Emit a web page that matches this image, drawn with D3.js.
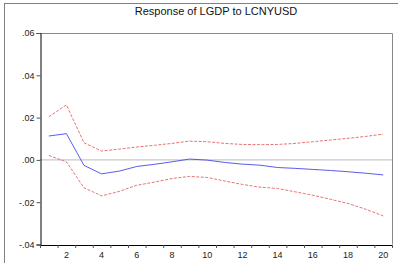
<!DOCTYPE html>
<html>
<head>
<meta charset="utf-8">
<script src="https://cdn.jsdelivr.net/npm/d3@7"></script>
<style>
  body { margin: 0; background: #fff; }
  svg { display: block; font-family: "Liberation Sans", Arial, sans-serif; }
</style>
</head>
<body>
<svg width="398" height="263"></svg>
<script>
  const periods = d3.range(1, 21);
  const response = [0.0113, 0.0124, -0.0026, -0.0066, -0.0053, -0.0031, -0.0021, -0.0009, 0.0004, -0.0001,
                    -0.0012, -0.0020, -0.0025, -0.0036, -0.0040, -0.0045, -0.0050, -0.0056, -0.0063, -0.0071];
  const upper = [0.0204, 0.0260, 0.0081, 0.0042, 0.0051, 0.0061, 0.0069, 0.0078, 0.0089, 0.0086,
                 0.0078, 0.0073, 0.0072, 0.0073, 0.0078, 0.0086, 0.0094, 0.0102, 0.0111, 0.0122];
  const lower = [0.0021, -0.0009, -0.0132, -0.0170, -0.0149, -0.0120, -0.0105, -0.0088, -0.0078, -0.0083,
                 -0.0100, -0.0116, -0.0129, -0.0135, -0.0151, -0.0167, -0.0186, -0.0206, -0.0233, -0.0265];
  const yTicks = [-0.04, -0.02, 0, 0.02, 0.04, 0.06];
  const xLabels = [2, 4, 6, 8, 10, 12, 14, 16, 18, 20];
  const title = "Response of LGDP to LCNYUSD";

  (function () {
  const svg = d3.select("svg");
  const m = {left: 40, right: 392, top: 33, bottom: 244.5};

  // outer frame
  svg.append("rect")
    .attr("x", 4.5).attr("y", 3.5).attr("width", 400).attr("height", 270)
    .attr("fill", "none").attr("stroke", "#808080");

  const x = d3.scaleLinear().domain([0.5, 20.5]).range([m.left, m.right]);
  const y = d3.scaleLinear().domain([-0.04, 0.06]).range([m.bottom, m.top]);

  const fmt = v => v === 0 ? ".00" : (v < 0 ? "-" : "") + d3.format(".2f")(Math.abs(v)).replace(/^0/, "");

  // frame top/right
  svg.append("path")
    .attr("d", `M${m.left},${m.top + 0.5}H${m.right + 0.5}V${m.bottom}`)
    .attr("fill", "none").attr("stroke", "#888");

  // zero line
  svg.append("line")
    .attr("x1", m.left).attr("x2", m.right)
    .attr("y1", y(0)).attr("y2", y(0))
    .attr("stroke", "#c8c8c8").attr("stroke-width", 1.3);

  //=========== AXES ===========
  const yAxis = d3.axisLeft(y).tickValues(yTicks).tickFormat(fmt).tickSize(4).tickPadding(2);
  const gy = svg.append("g").attr("transform", `translate(${m.left + 0.5},0)`).call(yAxis);
  gy.select(".domain").attr("stroke", "#000");
  gy.selectAll(".tick line").attr("stroke", "#555");
  gy.selectAll("text").attr("font-size", 9).attr("fill", "#222");
  gy.attr("font-family", null);

  const xAxis = d3.axisBottom(x).tickValues(d3.range(0.5, 21, 1)).tickFormat("").tickSizeOuter(0).tickSize(3);
  const gx = svg.append("g").attr("transform", `translate(0,${m.bottom + 0.5})`).call(xAxis);
  gx.select(".domain").attr("stroke", "#000");
  gx.selectAll(".tick line").attr("stroke", "#555");

  svg.append("g").selectAll("text").data(xLabels).join("text")
    .attr("x", d => x(d)).attr("y", m.bottom + 13)
    .attr("text-anchor", "middle").attr("font-size", 9).attr("fill", "#222")
    .text(d => d);

  //=========== LINES ===========
  const line = d3.line().x((d, i) => x(periods[i])).y(d => y(d));
  [upper, lower].forEach(s => {
    svg.append("path").attr("d", line(s))
      .attr("fill", "none").attr("stroke", "#e36464").attr("stroke-width", 0.9)
      .attr("stroke-dasharray", "3,1.5");
  });
  svg.append("path").attr("d", line(response))
    .attr("fill", "none").attr("stroke", "#4848ec").attr("stroke-width", 0.9);

  svg.append("text")
    .attr("x", (m.left + m.right) / 2).attr("y", 15)
    .attr("text-anchor", "middle").attr("font-size", 11).attr("fill", "#111")
    .text(title);
  })();
</script>
</body>
</html>
